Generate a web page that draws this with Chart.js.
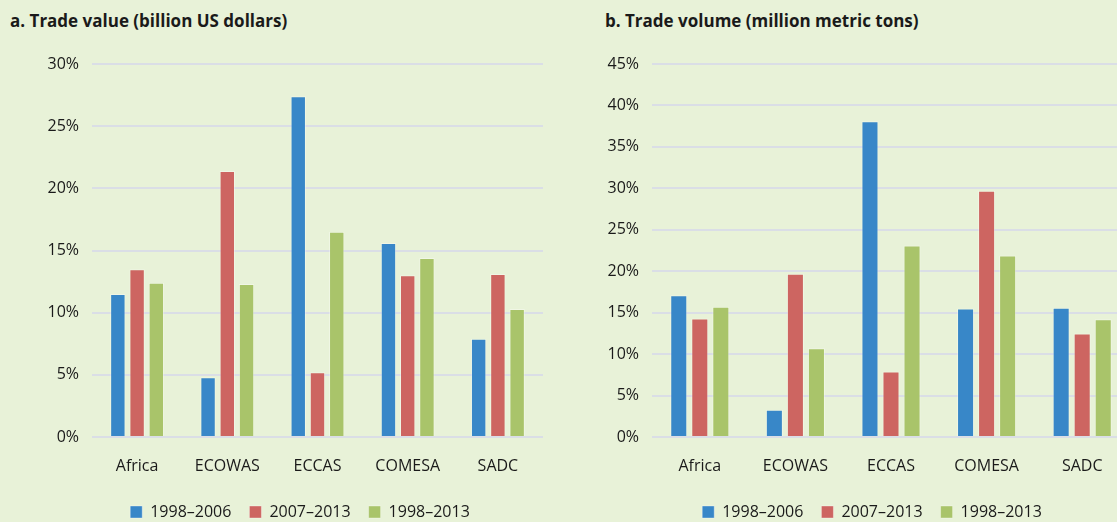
<!DOCTYPE html>
<html lang="en">
<head>
<meta charset="UTF-8">
<title>Trade shares</title>
<script src="https://cdn.jsdelivr.net/npm/chart.js"></script>
<style>
    html, body { margin: 0; padding: 0; }
    body {
        width: 1117px; height: 522px; overflow: hidden; position: relative;
        background: #e8f2d8;
        font-family: 'Open Sans', sans-serif;
    }
    .title {
        position: absolute; top: 9px;
        font-size: 17px; font-weight: 700; color: #1a1a1a;
    }
    .box { position: absolute; top: 41px; height: 489px; }
</style>
</head>
<body>
<div class="title" style="left:10px">a. Trade value (billion US dollars)</div>
<div class="title" style="left:605px">b. Trade volume (million metric tons)</div>
<div class="box" style="left:0px;width:600px"><canvas id="valueChart"></canvas></div>
<div class="box" style="left:560px;width:624px"><canvas id="volumeChart"></canvas></div>

<script>
const regions = ['Africa', 'ECOWAS', 'ECCAS', 'COMESA', 'SADC'];
const periods = ['1998–2006', '2007–2013', '1998–2013'];

// a. share of trade value, %
const valueEarly = [11.5, 4.8, 27.4, 15.6, 7.9];
const valueLate  = [13.5, 21.4, 5.2, 13.0, 13.1];
const valueAll   = [12.4, 12.3, 16.5, 14.4, 10.3];

// b. share of trade volume, %
const volumeEarly = [17.1, 3.3, 38.1, 15.5, 15.6];
const volumeLate  = [14.3, 19.7, 7.9, 29.7, 12.5];
const volumeAll   = [15.7, 10.7, 23.1, 21.9, 14.2];

const colors = ['#3887c8', '#cd6561', '#a9c46a'];
const legendPad = 18;

function makeChart(id, series, yMax, catPct, barPct, rightGap) {
    const ctx = document.getElementById(id).getContext('2d');
    return new Chart(ctx, {
        type: 'bar',
        data: {
            labels: regions,
            datasets: series.map((vals, i) => ({
                label: periods[i],
                data: vals,
                backgroundColor: colors[i],
                borderColor: 'rgba(255,255,255,0.35)',
                borderWidth: 1,
                categoryPercentage: catPct,
                barPercentage: barPct
            }))
        },
        options: {
            responsive: true,
            maintainAspectRatio: false,
            animation: false,
            layout: { padding: { top: 23, left: 0, right: 0, bottom: 0 } },
            plugins: {
                tooltip: { enabled: false },
                legend: {
                    position: 'bottom',
                    labels: {
                        boxWidth: 12, boxHeight: 12, padding: legendPad,
                        color: '#1a1a1a',
                        font: { family: 'Open Sans', size: 16 }
                    }
                }
            },
            scales: {
                x: {
                    grid: { display: false },
                    border: { display: false },
                    ticks: {
                        color: '#1a1a1a', padding: 12,
                        font: { family: 'Open Sans', size: 16 }
                    },
                    afterFit(s) { s.height = 67 - legendPad; }
                },
                y: {
                    min: 0, max: yMax,
                    grid: { color: '#dadee6', lineWidth: 2, drawTicks: false },
                    border: { display: false },
                    ticks: {
                        stepSize: 5, padding: 13,
                        color: '#1a1a1a',
                        font: { family: 'Open Sans', size: 16 },
                        callback: v => v + '%'
                    },
                    afterFit(s) { s.width = 92; }
                },
                // empty spacer so the plot stops short of the legend's right edge
                spacer: {
                    type: 'linear', position: 'right',
                    grid: { display: false },
                    border: { display: false },
                    ticks: { display: false },
                    afterFit(s) { s.width = rightGap; }
                }
            }
        }
    });
}

makeChart('valueChart', [valueEarly, valueLate, valueAll], 30, 0.64, 0.8, 57);
makeChart('volumeChart', [volumeEarly, volumeLate, volumeAll], 45, 0.66, 0.81, 54);
</script>
</body>
</html>
